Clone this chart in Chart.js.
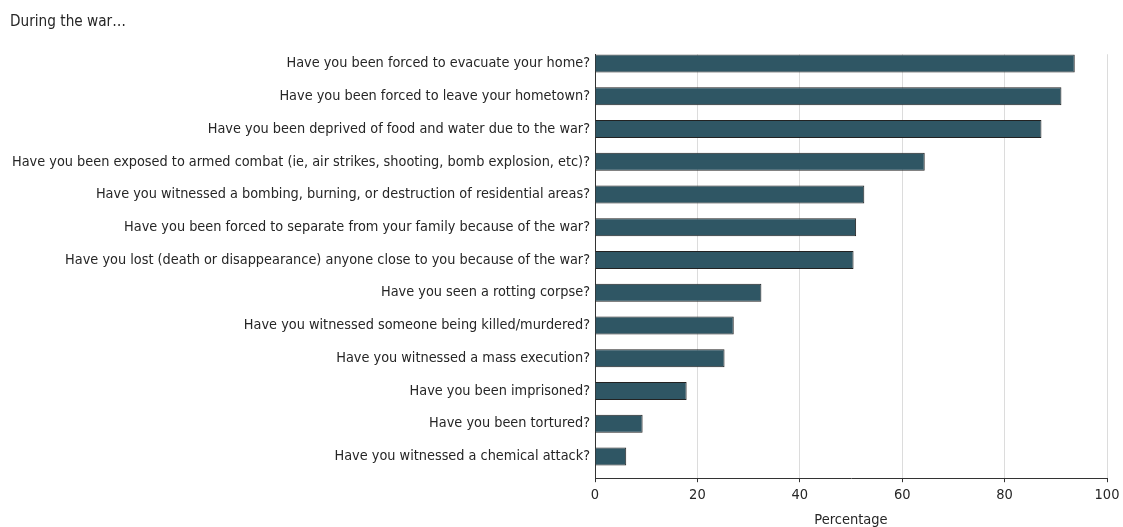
<!DOCTYPE html>
<html>
<head>
<meta charset="utf-8">
<script src="https://cdn.jsdelivr.net/npm/chart.js@4/dist/chart.umd.min.js"></script>
<style>
  html, body { margin: 0; padding: 0; background: #fff; }
  #wrap { width: 1123px; height: 527px; }
</style>
</head>
<body>
<div id="wrap"><canvas id="war-chart"></canvas></div>
<script>
// chart data
var questions = [
    'Have you been forced to evacuate your home?',
    'Have you been forced to leave your hometown?',
    'Have you been deprived of food and water due to the war?',
    'Have you been exposed to armed combat (ie, air strikes, shooting, bomb explosion, etc)?',
    'Have you witnessed a bombing, burning, or destruction of residential areas?',
    'Have you been forced to separate from your family because of the war?',
    'Have you lost (death or disappearance) anyone close to you because of the war?',
    'Have you seen a rotting corpse?',
    'Have you witnessed someone being killed/murdered?',
    'Have you witnessed a mass execution?',
    'Have you been imprisoned?',
    'Have you been tortured?',
    'Have you witnessed a chemical attack?'
];
var percentages = [93.7, 91.1, 87.2, 64.4, 52.6, 51.0, 50.5, 32.5, 27.1, 25.3, 17.9, 9.3, 6.1];
var xTicks = [0, 20, 40, 60, 80, 100];

var fontFamily = '"DejaVu Sans Condensed", "DejaVu Sans", sans-serif';
var textColor = '#262626';

Chart.defaults.font.family = fontFamily;
Chart.defaults.font.size = 14.35;
Chart.defaults.color = textColor;

// one point per question, question index on the y axis
var points = percentages.map(function (v, i) {
    return { x: v, y: i };
});

var ctx = document.getElementById('war-chart').getContext('2d');

var warChart = new Chart(ctx, {
    type: 'bar',
    data: {
        datasets: [{
            data: points,
            backgroundColor: '#2f5664',
            borderColor: '#222222',
            borderWidth: 1,
            borderSkipped: 'start',
            categoryPercentage: 1,
            barPercentage: 0.55
        }]
    },
    options: {
        indexAxis: 'y',
        responsive: true,
        maintainAspectRatio: false,
        animation: false,
        layout: {
            padding: { left: 10, right: 16, top: 0, bottom: -2 }
        },
        plugins: {
            legend: { display: false },
            tooltip: { enabled: false },
            title: {
                display: true,
                text: 'During the war…',
                align: 'start',
                color: textColor,
                font: { size: 15.2, weight: 'normal' },
                padding: { top: 13, bottom: 23 }
            }
        },
        scales: {
            x: {
                type: 'linear',
                min: 0,
                max: 100,
                afterBuildTicks: function (scale) {
                    scale.ticks = xTicks.map(function (v) { return { value: v }; });
                },
                afterFit: function (scale) {
                    scale.paddingLeft = 0;
                    scale.paddingRight = 0;
                },
                grid: {
                    color: '#dcdcdc',
                    lineWidth: 1,
                    drawTicks: true,
                    tickLength: 4,
                    tickColor: '#333333'
                },
                border: { display: true, color: '#333333', width: 1 },
                ticks: { padding: 4, color: textColor, font: { size: 14.5 } },
                title: {
                    display: true,
                    text: 'Percentage',
                    color: textColor,
                    font: { size: 14.5 },
                    padding: { top: 4, bottom: 0 }
                }
            },
            y: {
                type: 'linear',
                reverse: true,
                offset: false,
                min: -0.285,
                max: 12.664,
                afterBuildTicks: function (scale) {
                    scale.ticks = questions.map(function (q, i) { return { value: i }; });
                },
                afterFit: function (scale) {
                    // keep the plot starting at the same x as the picture
                    scale.width = 585;
                },
                grid: { display: false, drawTicks: false, offset: false },
                border: { display: true, color: '#333333', width: 1 },
                ticks: {
                    padding: 5,
                    color: textColor,
                    autoSkip: false,
                    callback: function (value) {
                        return questions[value];
                    }
                }
            }
        }
    }
});
</script>
</body>
</html>
